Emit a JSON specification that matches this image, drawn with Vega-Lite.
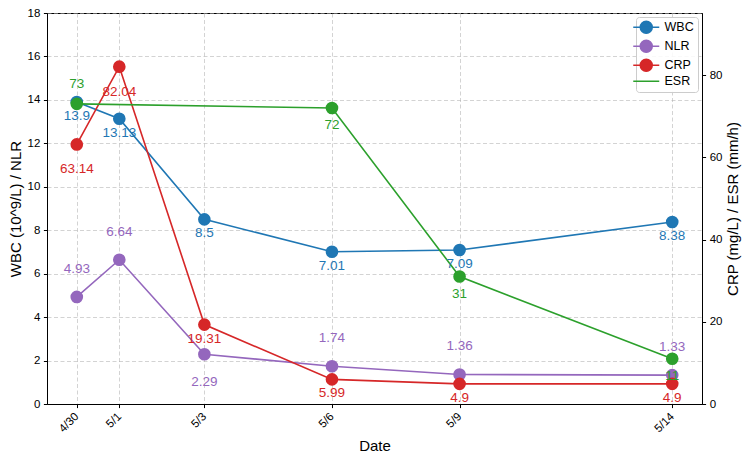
{
  "$schema": "https://vega.github.io/schema/vega-lite/v6.json",
  "width": 655,
  "height": 391,
  "autosize": {"type": "none"},
  "padding": {"left": 47, "top": 13, "right": 48, "bottom": 58},
  "background": "white",
  "config": {
    "font": "Liberation Sans",
    "view": {"stroke": "#000", "strokeWidth": 1},
    "axis": {
      "labelFont": "Liberation Sans",
      "titleFont": "Liberation Sans",
      "labelFontSize": 11.5,
      "titleFontSize": 15,
      "titleFontWeight": "normal",
      "labelColor": "#000",
      "titleColor": "#000",
      "domainColor": "#000",
      "tickColor": "#000",
      "tickSize": 3.6,
      "labelPadding": 3.6,
      "gridColor": "#b0b0b0",
      "gridOpacity": 0.7,
      "gridDash": [4, 2.5],
      "gridWidth": 0.8
    }
  },
  "data": {
    "values": [
      {"date": "2024-04-30", "metric": "WBC", "value": 13.9},
      {"date": "2024-05-01", "metric": "WBC", "value": 13.13},
      {"date": "2024-05-03", "metric": "WBC", "value": 8.5},
      {"date": "2024-05-06", "metric": "WBC", "value": 7.01},
      {"date": "2024-05-09", "metric": "WBC", "value": 7.09},
      {"date": "2024-05-14", "metric": "WBC", "value": 8.38},
      {"date": "2024-04-30", "metric": "NLR", "value": 4.93},
      {"date": "2024-05-01", "metric": "NLR", "value": 6.64},
      {"date": "2024-05-03", "metric": "NLR", "value": 2.29},
      {"date": "2024-05-06", "metric": "NLR", "value": 1.74},
      {"date": "2024-05-09", "metric": "NLR", "value": 1.36},
      {"date": "2024-05-14", "metric": "NLR", "value": 1.33},
      {"date": "2024-04-30", "metric": "CRP", "value": 63.14},
      {"date": "2024-05-01", "metric": "CRP", "value": 82.04},
      {"date": "2024-05-03", "metric": "CRP", "value": 19.31},
      {"date": "2024-05-06", "metric": "CRP", "value": 5.99},
      {"date": "2024-05-09", "metric": "CRP", "value": 4.9},
      {"date": "2024-05-14", "metric": "CRP", "value": 4.9},
      {"date": "2024-04-30", "metric": "ESR", "value": 73},
      {"date": "2024-05-06", "metric": "ESR", "value": 72},
      {"date": "2024-05-09", "metric": "ESR", "value": 31},
      {"date": "2024-05-14", "metric": "ESR", "value": 11}
    ]
  },
  "encoding": {
    "x": {
      "field": "date",
      "type": "temporal",
      "title": "Date",
      "scale": {
        "type": "utc",
        "domain": [
          {"year": 2024, "month": 4, "date": 29, "hours": 7, "minutes": 12, "utc": true},
          {"year": 2024, "month": 5, "date": 14, "hours": 16, "minutes": 48, "utc": true}
        ]
      },
      "axis": {
        "values": [
          {"year": 2024, "month": 4, "date": 30, "utc": true},
          {"year": 2024, "month": 5, "date": 1, "utc": true},
          {"year": 2024, "month": 5, "date": 3, "utc": true},
          {"year": 2024, "month": 5, "date": 6, "utc": true},
          {"year": 2024, "month": 5, "date": 9, "utc": true},
          {"year": 2024, "month": 5, "date": 14, "utc": true}
        ],
        "labelExpr": "utcFormat(datum.value, '%-m/%-d')",
        "labelAngle": -45,
        "labelAlign": "right",
        "labelBaseline": "middle",
        "labelPadding": 7,
        "grid": true,
        "titlePadding": 4
      }
    },
    "color": {
      "field": "metric",
      "type": "nominal",
      "scale": {
        "domain": ["WBC", "NLR", "CRP", "ESR"],
        "range": ["#1f77b4", "#9467bd", "#d62728", "#2ca02c"]
      },
      "legend": {
        "title": null,
        "orient": "top-right",
        "offset": 4,
        "padding": 4,
        "rowPadding": 0,
        "strokeColor": "#cccccc",
        "fillColor": "rgba(255,255,255,0.85)",
        "cornerRadius": 3,
        "labelFontSize": 12.5,
        "labelColor": "#000",
        "labelFont": "Liberation Sans",
        "symbolSize": 100,
        "symbolStrokeWidth": 1.5,
        "labelOffset": 12,
        "encode": {
          "symbols": {
            "update": {
              "shape": [
                {"test": "datum.value === 'ESR'", "value": "M-2.6,0L2.6,0"},
                {"value": "M-2.6,0L2.6,0M1.2,0A1.2,1.2,0,1,1,-1.2,0A1.2,1.2,0,1,1,1.2,0Z"}
              ],
              "stroke": {"scale": "color", "field": "value"},
              "fill": {"scale": "color", "field": "value"},
              "opacity": {"value": 1}
            }
          }
        }
      }
    }
  },
  "layer": [
    {
      "transform": [{"filter": "datum.metric === 'WBC' || datum.metric === 'NLR'"}],
      "encoding": {
        "y": {
          "field": "value",
          "type": "quantitative",
          "title": "WBC (10^9/L) / NLR",
          "scale": {"domain": [0, 18], "nice": false, "zero": true},
          "axis": {"values": [0, 2, 4, 6, 8, 10, 12, 14, 16, 18], "grid": true, "titlePadding": 4}
        }
      },
      "layer": [
        {"mark": {"type": "line", "strokeWidth": 1.6}},
        {"mark": {"type": "circle", "size": 160, "opacity": 1}}
      ]
    },
    {
      "transform": [{"filter": "datum.metric === 'CRP' || datum.metric === 'ESR'"}],
      "encoding": {
        "y": {
          "field": "value",
          "type": "quantitative",
          "title": "CRP (mg/L) / ESR (mm/h)",
          "scale": {"domain": [0, 95.1], "nice": false, "zero": true},
          "axis": {"orient": "right", "values": [0, 20, 40, 60, 80], "grid": false, "titlePadding": 4, "titleAngle": -90, "titleBaseline": "top"}
        }
      },
      "layer": [
        {"mark": {"type": "line", "strokeWidth": 1.6}},
        {"mark": {"type": "circle", "size": 160, "opacity": 1}}
      ]
    },
    {
      "transform": [{"filter": "datum.metric === 'WBC' || datum.metric === 'NLR'"}],
      "encoding": {
        "y": {
          "field": "value",
          "type": "quantitative",
          "scale": {"domain": [0, 18], "nice": false},
          "axis": null
        },
        "text": {"field": "value", "type": "quantitative", "format": "~g"}
      },
      "layer": [
        {
          "transform": [{"filter": "datum.metric === 'WBC'"}],
          "mark": {"type": "text", "fontSize": 13.5, "dy": 14, "baseline": "middle"}
        },
        {
          "transform": [{"filter": "datum.metric === 'NLR' && datum.value !== 2.29"}],
          "mark": {"type": "text", "fontSize": 13.5, "dy": -28, "baseline": "middle"}
        },
        {
          "transform": [{"filter": "datum.metric === 'NLR' && datum.value === 2.29"}],
          "mark": {"type": "text", "fontSize": 13.5, "dy": 28, "baseline": "middle"}
        }
      ]
    },
    {
      "transform": [{"filter": "datum.metric === 'CRP' || datum.metric === 'ESR'"}],
      "encoding": {
        "y": {
          "field": "value",
          "type": "quantitative",
          "scale": {"domain": [0, 95.1], "nice": false},
          "axis": null
        },
        "text": {"field": "value", "type": "quantitative", "format": "~g"}
      },
      "layer": [
        {
          "transform": [{"filter": "datum.metric === 'CRP' && datum.value > 60"}],
          "mark": {"type": "text", "fontSize": 13.5, "dy": 25, "baseline": "middle"}
        },
        {
          "transform": [{"filter": "datum.metric === 'CRP' && datum.value <= 60"}],
          "mark": {"type": "text", "fontSize": 13.5, "dy": 14, "baseline": "middle"}
        },
        {
          "transform": [{"filter": "datum.metric === 'ESR' && datum.value === 73"}],
          "mark": {"type": "text", "fontSize": 13.5, "dy": -20, "baseline": "middle"}
        },
        {
          "transform": [{"filter": "datum.metric === 'ESR' && datum.value !== 73"}],
          "mark": {"type": "text", "fontSize": 13.5, "dy": 17, "baseline": "middle"}
        }
      ]
    }
  ],
  "resolve": {"scale": {"y": "independent"}}
}
